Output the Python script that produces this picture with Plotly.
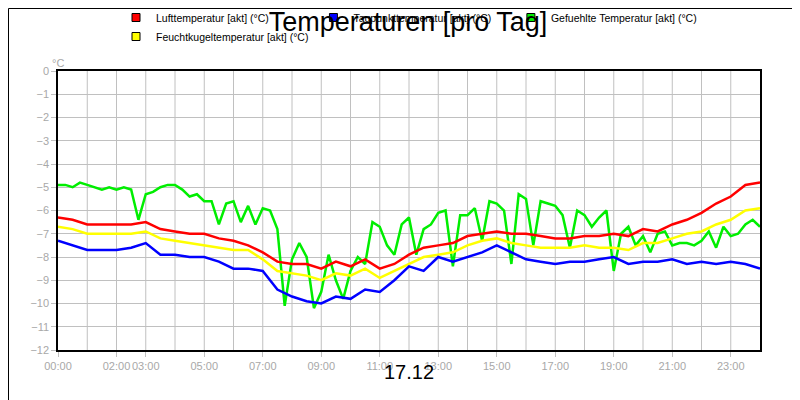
import plotly.graph_objects as go

# Half-hourly readings, 00:00 .. 24:00
half_hours = [i * 0.5 for i in range(49)]
luft = [-6.3, -6.4, -6.6, -6.6, -6.6, -6.6, -6.5, -6.8, -6.9, -7.0, -7.0, -7.2,
        -7.3, -7.5, -7.8, -8.2, -8.3, -8.3, -8.5, -8.2, -8.4, -8.1, -8.5, -8.3,
        -7.9, -7.6, -7.5, -7.4, -7.1, -7.0, -6.9, -7.0, -7.0, -7.1, -7.2, -7.2,
        -7.1, -7.1, -7.0, -7.1, -6.8, -6.9, -6.6, -6.4, -6.1, -5.7, -5.4, -4.9, -4.8]
feucht = [-6.7, -6.8, -7.0, -7.0, -7.0, -7.0, -6.9, -7.2, -7.3, -7.4, -7.5, -7.6,
          -7.7, -7.7, -8.1, -8.6, -8.7, -8.8, -9.0, -8.7, -8.8, -8.5, -8.9, -8.6,
          -8.3, -8.0, -7.9, -7.8, -7.5, -7.3, -7.2, -7.4, -7.5, -7.6, -7.6, -7.6,
          -7.5, -7.6, -7.6, -7.7, -7.4, -7.4, -7.2, -7.0, -6.9, -6.6, -6.4, -6.0, -5.9]
taupunkt = [-7.3, -7.5, -7.7, -7.7, -7.7, -7.6, -7.4, -7.9, -7.9, -8.0, -8.0, -8.2,
            -8.5, -8.5, -8.6, -9.4, -9.7, -9.9, -10.0, -9.7, -9.8, -9.4, -9.5, -9.0,
            -8.4, -8.6, -8.0, -8.2, -8.0, -7.8, -7.5, -7.8, -8.1, -8.2, -8.3, -8.2,
            -8.2, -8.1, -8.0, -8.3, -8.2, -8.2, -8.1, -8.3, -8.2, -8.3, -8.2, -8.3, -8.5]

# Quarter-hourly readings for the sensed temperature, 00:00 .. 24:00
gefuehlt = [-4.9, -4.9, -5.0, -4.8, -4.9, -5.0, -5.1, -5.0, -5.1, -5.0, -5.1, -6.4,
            -5.3, -5.2, -5.0, -4.9, -4.9, -5.1, -5.4, -5.3, -5.6, -5.6, -6.6, -5.7,
            -5.6, -6.5, -5.8, -6.6, -5.9, -6.0, -6.8, -10.1, -8.1, -7.4, -8.0, -10.2,
            -9.5, -7.9, -9.0, -9.8, -8.6, -8.0, -8.3, -6.5, -6.7, -7.5, -7.9, -6.6,
            -6.3, -7.9, -6.8, -6.6, -6.1, -6.0, -8.4, -6.2, -6.2, -5.9, -7.3, -5.6,
            -5.7, -6.0, -8.3, -5.3, -5.5, -7.5, -5.6, -5.7, -5.8, -6.2, -7.6, -6.0,
            -6.2, -6.7, -6.3, -6.0, -8.6, -7.0, -6.7, -7.5, -7.1, -7.8, -7.0, -6.9,
            -7.5, -7.4, -7.4, -7.5, -7.3, -6.9, -7.6, -6.7, -7.1, -7.0, -6.6, -6.4, -6.7]
quarter_hours = [i * 0.25 for i in range(len(gefuehlt))]

tick_vals = [0, 2, 3, 5, 7, 9, 11, 13, 15, 17, 19, 21, 23]
tick_text = [f"{h:02d}:00" for h in tick_vals]

series = [
    ("Lufttemperatur [akt] (°C)", half_hours, luft, "#ff0000"),
    ("Taupunkttemperatur [akt] (°C)", half_hours, taupunkt, "#0000ff"),
    ("Gefuehlte Temperatur [akt] (°C)", quarter_hours, gefuehlt, "#00ee00"),
    ("Feuchtkugeltemperatur [akt] (°C)", half_hours, feucht, "#ffff00"),
]

fig = go.Figure()
# draw order: green behind, then yellow, red, blue
for idx in [2, 3, 0, 1]:
    name, xs, ys, color = series[idx]
    fig.add_trace(go.Scatter(x=xs, y=ys, mode="lines", showlegend=False,
                             line=dict(color=color, width=2.5)))
for name, xs, ys, color in series:
    fig.add_trace(go.Scatter(x=[None], y=[None], mode="markers", name=name,
                             marker=dict(symbol="square", size=8, color=color,
                                         line=dict(color="black", width=1))))

W, H = 702, 279
L, R, T, B = 50, 48, 63, 58
fig.update_layout(
    width=800, height=400, margin=dict(l=L, r=R, t=T, b=B, autoexpand=False),
    paper_bgcolor="white", plot_bgcolor="white",
    font=dict(family="Liberation Sans, Arial", size=11, color="black"),
    title=dict(text="Temperaturen [pro Tag]", x=0.5, y=0.99, yanchor="top",
               font=dict(size=27, color="black")),
    legend=dict(orientation="h", x=0.5, xanchor="center", y=1 + 20 / H,
                yanchor="bottom", font=dict(size=10.5), itemwidth=30,
                entrywidth=0, bgcolor="rgba(0,0,0,0)", tracegroupgap=0),
    xaxis=dict(range=[0, 24], tickvals=tick_vals, ticktext=tick_text,
               tickangle=0, automargin=False,
               showgrid=False, ticks="outside", ticklen=5, tickcolor="#c0c0c0",
               tickfont=dict(color="#a8a8a8", size=11),
               showline=True, linecolor="black", linewidth=1.5, mirror=True,
               zeroline=False),
    yaxis=dict(range=[-12, 0], dtick=1, gridcolor="#c0c0c0", gridwidth=1,
               automargin=False,
               ticks="outside", ticklen=5, tickcolor="#c0c0c0",
               tickfont=dict(color="#a8a8a8", size=11),
               showline=True, linecolor="black", linewidth=1.5, mirror=True,
               zeroline=False),
    annotations=[
        dict(text="°C", xref="paper", yref="paper", x=-8 / W, y=1 + 16 / H,
             showarrow=False, font=dict(color="#a8a8a8", size=11)),
        dict(text="17.12", xref="paper", yref="paper", x=0.5, y=-35 / H,
             showarrow=False, font=dict(size=20, color="black")),
    ],
    shapes=[
        dict(type="rect", xref="paper", yref="paper",
             x0=-(L - 0.5) / W, x1=1 + (R - 1.5) / W,
             y0=-(B - 1.5) / H, y1=1 + (T - 0.5) / H,
             line=dict(color="black", width=1)),
    ],
)
# hourly vertical grid lines
for h in range(1, 24):
    fig.add_vline(x=h, line=dict(color="#c0c0c0", width=1), layer="below")

fig.write_html("out.html")
